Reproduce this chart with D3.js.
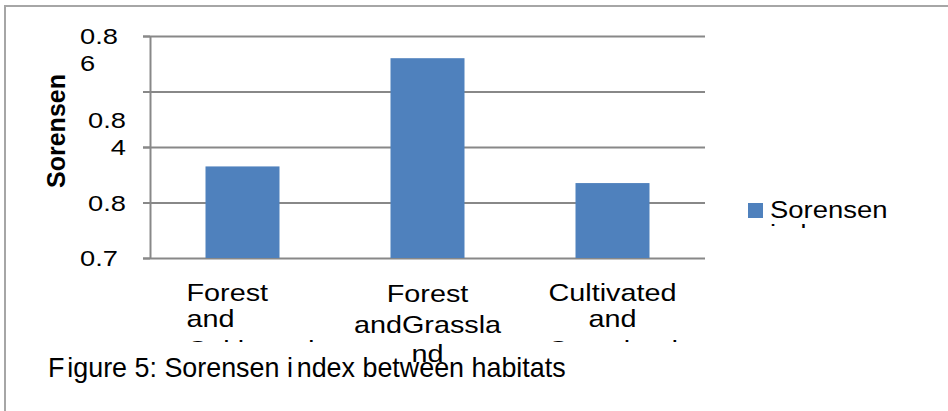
<!DOCTYPE html>
<html>
<head>
<meta charset="utf-8">
<script src="https://cdn.jsdelivr.net/npm/d3@7"></script>
<style>
  html, body { margin: 0; padding: 0; background: #fff; }
  svg { display: block; font-family: "Liberation Sans", Arial, sans-serif; }
</style>
</head>
<body>
<svg id="chart" width="948" height="411"></svg>
<script>
// Sorensen similarity index for each pair of habitats
const categories = ["Forest and Cultivated", "Forest and Grassland", "Cultivated and Grassland"];
const categoryLines = [
  ["Forest", "and", "Cultivated"],
  ["Forest", "andGrassla", "nd"],
  ["Cultivated", "and", "Grassland"]
];
const sorensenValues = [0.813, 0.852, 0.807];

// value axis
const yDomain = [0.78, 0.86];
const yTickValues = [0.78, 0.80, 0.82, 0.84, 0.86];
const yLabelValues = [0.78, 0.80, 0.82, 0.86];
const yLabelLines = [["0.7"], ["0.8"], ["0.8", "4"], ["0.8", "6"]];
const yLabelTickLine = [0, 0, 1, 0];   // which wrapped line sits on the tick

const seriesName = ["Sorensen", "index"];
const axisTitle = "Sorensen";
const caption = ["F", "igure 5: Sorensen ", "i", "ndex between habitats"];

const svg = d3.select("#chart");
const plot = { left: 150, right: 705, top: 36, bottom: 258 };
const barColor = "#4F81BD";
const gridColor = "#888888";

// outer frame
svg.append("rect")
  .attr("x", 5).attr("y", 6)
  .attr("width", 1000).attr("height", 500)
  .attr("fill", "none")
  .attr("stroke", "#a6a6a6")
  .attr("stroke-width", 2);

const x = d3.scaleBand()
  .domain(categories)
  .range([plot.left, plot.right])
  .padding(0);

const y = d3.scaleLinear()
  .domain(yDomain)
  .range([plot.bottom, plot.top]);

// horizontal gridlines
const grid = svg.append("g")
  .attr("transform", `translate(${plot.left - 7},0)`)
  .call(d3.axisRight(y).tickValues(yTickValues).tickSize(plot.right - plot.left + 7).tickFormat(""));
grid.select(".domain").remove();
grid.selectAll(".tick line").attr("stroke", gridColor).attr("stroke-width", 2);

// vertical value axis line
const yAxis = svg.append("g")
  .attr("transform", `translate(${plot.left},0)`)
  .call(d3.axisLeft(y).tickValues(yTickValues).tickSize(7).tickSizeOuter(0).tickFormat(""));
yAxis.select(".domain").attr("stroke", gridColor).attr("stroke-width", 2);
yAxis.selectAll(".tick line").attr("stroke", gridColor).attr("stroke-width", 2);

// bars
const barWidth = x.bandwidth() * 0.4;
svg.append("g")
  .selectAll("rect")
  .data(sorensenValues)
  .join("rect")
  .attr("x", (d, i) => x(categories[i]) + (x.bandwidth() - barWidth) / 2)
  .attr("y", d => y(d))
  .attr("width", barWidth)
  .attr("height", d => y(yDomain[0]) - y(d))
  .attr("fill", barColor);

// text helper with horizontal stretch
function label(parent, px, py, txt, size, sx, anchor, weight) {
  return parent.append("text")
    .attr("transform", `translate(${px},${py}) scale(${sx},1)`)
    .attr("text-anchor", anchor || "start")
    .attr("font-size", size)
    .attr("font-weight", weight || "normal")
    .attr("fill", "#000")
    .text(txt);
}

// value labels
const yLab = svg.append("g");
yLabelValues.forEach((v, i) => {
  const lines = yLabelLines[i];
  const leftAligned = i === 0 || i === yLabelValues.length - 1;
  lines.forEach((t, j) => {
    const base = y(v) + 8 + (j - yLabelTickLine[i]) * 27;
    if (leftAligned) label(yLab, 80, base, t, 22, 1.24, "start");
    else label(yLab, 126, base, t, 22, 1.24, "end");
  });
});

// axis title
svg.append("text")
  .attr("transform", "translate(65,131) rotate(-90)")
  .attr("text-anchor", "middle")
  .attr("font-size", 25)
  .attr("font-weight", "bold")
  .text(axisTitle);

// category labels (wrapped, third line cut off by the plot area box)
svg.append("clipPath").attr("id", "catClip")
  .append("rect").attr("x", 0).attr("y", 0).attr("width", 948).attr("height", 342);

categoryLines.forEach((lines, i) => {
  const cx = x(categories[i]) + x.bandwidth() / 2;
  const middle = i === 1;
  const g = svg.append("g").attr("clip-path", middle ? null : "url(#catClip)");
  const baselines = middle ? [302, 333, 362] : [301, 327, 358];
  lines.forEach((t, j) => {
    if (i === 0) label(g, cx - 56, baselines[j], t, 24, 1.2, "start");
    else label(g, cx, baselines[j], t, 24, 1.2, "middle");
  });
});

// legend
svg.append("clipPath").attr("id", "legClip")
  .append("rect").attr("x", 700).attr("y", 0).attr("width", 248).attr("height", 228);
const legend = svg.append("g").attr("clip-path", "url(#legClip)");
legend.append("rect")
  .attr("x", 748).attr("y", 203)
  .attr("width", 15).attr("height", 15)
  .attr("fill", barColor);
label(legend, 770, 218, seriesName[0], 24.5, 1.12, "start");
label(legend, 770, 242, seriesName[1], 24.5, 1.12, "start");

// figure caption
const cap = svg.append("text")
  .attr("transform", "translate(48,377) scale(0.96,1)")
  .attr("font-size", 28)
  .attr("fill", "#000");
cap.append("tspan").text(caption[0]);
cap.append("tspan").attr("dx", 3).text(caption[1]);
cap.append("tspan").text(caption[2]);
cap.append("tspan").attr("dx", 4).text(caption[3]);
</script>
</body>
</html>
